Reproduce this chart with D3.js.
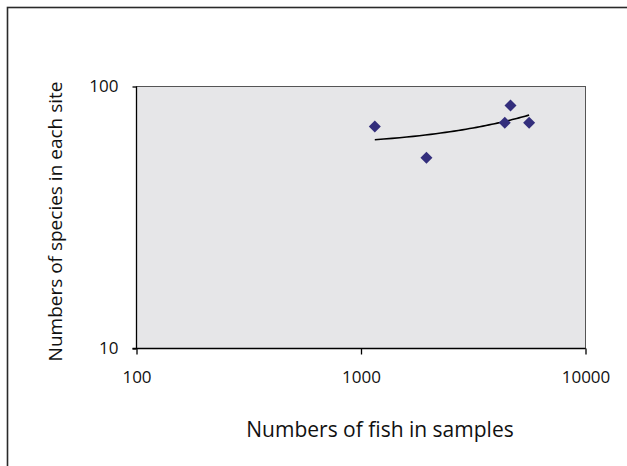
<!DOCTYPE html>
<html>
<head>
<meta charset="utf-8">
<script src="https://cdn.jsdelivr.net/npm/d3@7"></script>
<style>
  body { margin: 0; background: #fff; }
  text { font-family: "Open Sans", sans-serif; fill: #111; }
</style>
</head>
<body>
<div id="graph"></div>
<script>
// fish caught per site vs species found there
const fishCounts = [1152, 1957, 4370, 4634, 5608]
const speciesCounts = [70.4, 53.5, 72.7, 84.6, 72.7]
const xTicks = [100, 1000, 10000]
const yTicks = [10, 100]

const W = 627, H = 466
const plot = { left: 136.5, right: 585.5, top: 86.5, bottom: 348.5 }

const svg = d3.select("#graph")
    .append("svg")
    .attr("width", W)
    .attr("height", H)

// outer chart frame (right/bottom edges fall outside the view)
svg.append("rect")
    .attr("x", 7.5).attr("y", 7.5)
    .attr("width", 800).attr("height", 800)
    .attr("fill", "none")
    .attr("stroke", "#2a2a2a")
    .attr("stroke-width", 1.6)

const x = d3.scaleLog().domain([100, 10000]).range([plot.left, plot.right])
const y = d3.scaleLog().domain([10, 100]).range([plot.bottom, plot.top])

svg.append("rect") //plot area
    .attr("x", plot.left).attr("y", plot.top)
    .attr("width", plot.right - plot.left)
    .attr("height", plot.bottom - plot.top)
    .attr("fill", "#e6e6e8")
    .attr("stroke", "#555")
    .attr("stroke-width", 1)

const xAxis = d3.axisBottom(x).tickValues(xTicks).tickFormat(d3.format("d")).tickSize(6).tickPadding(16)
const yAxis = d3.axisLeft(y).tickValues(yTicks).tickFormat(d3.format("d")).tickSize(4).tickPadding(14)

const gx = svg.append("g")
    .attr("transform", `translate(0,${plot.bottom})`)
    .call(xAxis)
gx.select(".domain").attr("d", `M${plot.left - 4},0H${plot.right}`)

const gy = svg.append("g")
    .attr("transform", `translate(${plot.left},0)`)
    .call(yAxis)
gy.select(".domain").attr("d", `M0,${plot.top}V${plot.bottom}`)

svg.selectAll(".tick text").attr("font-size", 17).attr("fill", "#111")
    .style("font-family", '"Open Sans", sans-serif')
svg.selectAll(".domain, .tick line").attr("stroke", "#000").attr("stroke-width", 1.3)

// linear trendline, like the spreadsheet's default
const mx = d3.mean(fishCounts), my = d3.mean(speciesCounts)
const slope = d3.sum(fishCounts, (v, i) => (v - mx) * (speciesCounts[i] - my)) /
    d3.sum(fishCounts, v => (v - mx) * (v - mx))
const icpt = my - slope * mx
const [x0, x1] = d3.extent(fishCounts)
const trend = d3.range(0, 41).map(k => x0 + (x1 - x0) * k / 40)

svg.append("path")
    .datum(trend)
    .attr("fill", "none")
    .attr("stroke", "#000")
    .attr("stroke-width", 1.6)
    .attr("d", d3.line().x(d => x(d)).y(d => y(icpt + slope * d)))

svg.selectAll(".pt")
    .data(fishCounts)
    .enter()
    .append("path")
    .attr("class", "pt")
    .attr("transform", (d, i) => `translate(${x(d)},${y(speciesCounts[i])})`)
    .attr("d", "M0,-6L6,0L0,6L-6,0Z")
    .attr("fill", "#332e7c")

svg.append("text") //x title
    .attr("x", 380)
    .attr("y", 437)
    .attr("text-anchor", "middle")
    .attr("font-size", 21)
    .text("Numbers of fish in samples")

svg.append("text") //y title
    .attr("transform", `translate(62,${(plot.top + plot.bottom) / 2 + 4}) rotate(-90)`)
    .attr("text-anchor", "middle")
    .attr("font-size", 19)
    .text("Numbers of species in each site")
</script>
</body>
</html>
